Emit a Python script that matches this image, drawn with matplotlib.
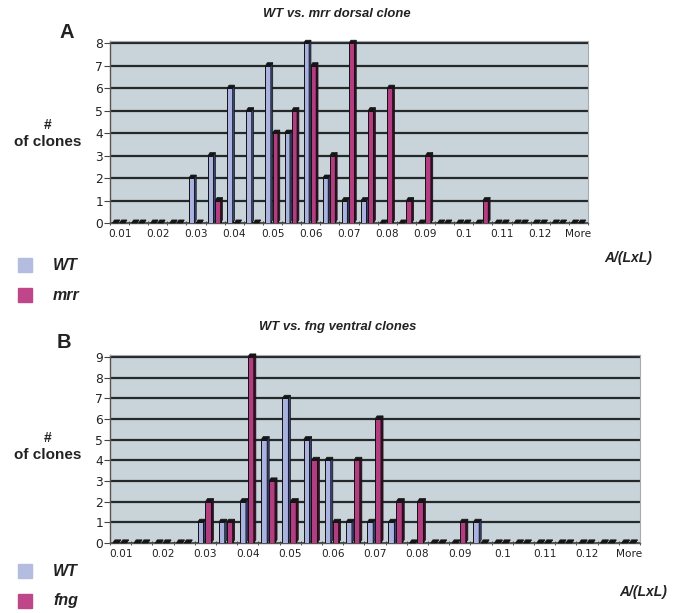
import matplotlib
matplotlib.use('Agg')
import matplotlib.pyplot as plt
import numpy as np

# ---------------- data ----------------
categories = ['0.01', '0.015', '0.02', '0.025', '0.03', '0.035', '0.04', '0.045',
              '0.05', '0.055', '0.06', '0.065', '0.07', '0.075', '0.08', '0.085',
              '0.09', '0.095', '0.1', '0.105', '0.11', '0.115', '0.12', '0.125', 'More']
tick_labels = ['0.01', '0.02', '0.03', '0.04', '0.05', '0.06', '0.07', '0.08',
               '0.09', '0.1', '0.11', '0.12', 'More']

wt_dorsal = [0, 0, 0, 0, 2, 3, 6, 5, 7, 4, 8, 2, 1, 1, 0, 0, 0, 0, 0, 0, 0, 0, 0, 0, 0]
mrr_dorsal = [0, 0, 0, 0, 0, 1, 0, 0, 4, 5, 7, 3, 8, 5, 6, 1, 3, 0, 0, 1, 0, 0, 0, 0, 0]

wt_ventral = [0, 0, 0, 0, 1, 1, 2, 5, 7, 5, 4, 1, 1, 1, 0, 0, 0, 1, 0, 0, 0, 0, 0, 0, 0]
fng_ventral = [0, 0, 0, 0, 2, 1, 9, 3, 2, 4, 1, 4, 6, 2, 2, 0, 1, 0, 0, 0, 0, 0, 0, 0, 0]

title_a = 'WT vs. mrr dorsal clone'
title_b = 'WT vs. fng ventral clones'

# ---------------- style ----------------
W, H = 680, 613
WALL = '#c8d4da'
WT_FRONT = '#aab3e0'
WT_SIDE = '#3b4275'
MG_FRONT = '#b23d80'
MG_SIDE = '#3a0d26'
TOP = '#151515'
LEG_WT = '#b4bcdf'
LEG_MG = '#c0468a'

fig = plt.figure(figsize=(W / 100, H / 100), dpi=100)
fig.patch.set_facecolor('white')


def fx(x):
    return x / W


def fy(y):
    return 1 - y / H


def draw_panel(left, top, right, bottom, wt, other, ymax):
    ax = fig.add_axes([fx(left), fy(bottom), fx(right - left), (bottom - top) / H])
    ax.set_facecolor(WALL)
    n = len(categories)
    x = np.arange(n)
    fw = 0.28          # front face width
    d = 0.10           # depth (x)
    dy = ymax * 0.017  # depth (y)
    offs = [-0.37, 0.0]
    for k in range(1, ymax + 1):
        ax.axhline(k, color='#26292c', lw=1.6, zorder=1)
    ax.axhline(0, color='#3a3a3a', lw=1.2, zorder=1)
    for series, off, front, side in ((wt, offs[0], WT_FRONT, WT_SIDE),
                                     (other, offs[1], MG_FRONT, MG_SIDE)):
        ax.bar(x + off, series, width=fw, align='edge', color=front,
               edgecolor='#111111', linewidth=0.7, zorder=3)
        for xi, v in zip(x, series):
            x0 = xi + off
            x1 = x0 + fw
            ax.fill([x1, x1 + d, x1 + d, x1], [0, dy, v + dy, v],
                    facecolor=side, edgecolor='#111111', lw=0.5, zorder=3, clip_on=False)
            ax.fill([x0, x0 + d, x1 + d, x1], [v, v + dy, v + dy, v],
                    facecolor=TOP, edgecolor=TOP, lw=0.5, zorder=3, clip_on=False)
    ax.set_xlim(-0.5, n - 0.5)
    ax.set_ylim(0, ymax + 0.1)
    ax.set_yticks(range(0, ymax + 1))
    ax.tick_params(axis='y', length=4, direction='out', color='#444444',
                   labelsize=8.8, labelcolor='#222222', pad=1)
    ax.set_xticks(x[::2])
    ax.set_xticklabels(tick_labels)
    ax.set_xticks(np.arange(-0.5, n, 1), minor=True)
    ax.tick_params(axis='x', which='major', length=0, labelsize=7.6,
                   labelcolor='#222222', pad=4)
    ax.tick_params(axis='x', which='minor', length=3, direction='inout',
                   color='#333333')
    for s in ('left', 'bottom'):
        ax.spines[s].set_color('#555555')
        ax.spines[s].set_linewidth(1.0)
    for s in ('top', 'right'):
        ax.spines[s].set_color('#a4acb0')
        ax.spines[s].set_linewidth(0.8)
    for lab in ax.get_xticklabels() + ax.get_yticklabels():
        lab.set_family('DejaVu Sans')
    return ax


def txt(x, y, s, size, weight='bold', style='normal', ha='center', color='#222222'):
    fig.text(fx(x), fy(y), s, fontsize=size, fontweight=weight, fontstyle=style,
             ha=ha, va='center', color=color, family='Liberation Sans')


def legend_square(x, y, color):
    fig.patches.append(plt.Rectangle((fx(x - 7), fy(y + 7)), 14 / W, 14 / H,
                                     transform=fig.transFigure, color=color))


# ---------------- panel A ----------------
draw_panel(110, 41, 588, 223, wt_dorsal, mrr_dorsal, 8)
txt(337, 14, title_a, 9.4, style='italic')
txt(67, 32, 'A', 14.5)
txt(48, 125, '#', 10)
txt(48, 142, 'of clones', 11)
legend_square(25, 265, LEG_WT)
legend_square(25, 295, LEG_MG)
txt(53, 265, 'WT', 11.5, style='italic', ha='left')
txt(53, 295, 'mrr', 11.5, style='italic', ha='left')
txt(628, 258, 'A/(LxL)', 10, style='italic')

# ---------------- panel B ----------------
draw_panel(110, 355, 640, 543, wt_ventral, fng_ventral, 9)
txt(338, 327, title_b, 9.4, style='italic')
txt(64, 342, 'B', 14.5)
txt(48, 438, '#', 10)
txt(48, 455, 'of clones', 11)
legend_square(25, 571, LEG_WT)
legend_square(25, 601, LEG_MG)
txt(53, 571, 'WT', 11.5, style='italic', ha='left')
txt(53, 601, 'fng', 11.5, style='italic', ha='left')
txt(643, 592, 'A/(LxL)', 10, style='italic')

fig.savefig('out.png', dpi=100, facecolor='white')
